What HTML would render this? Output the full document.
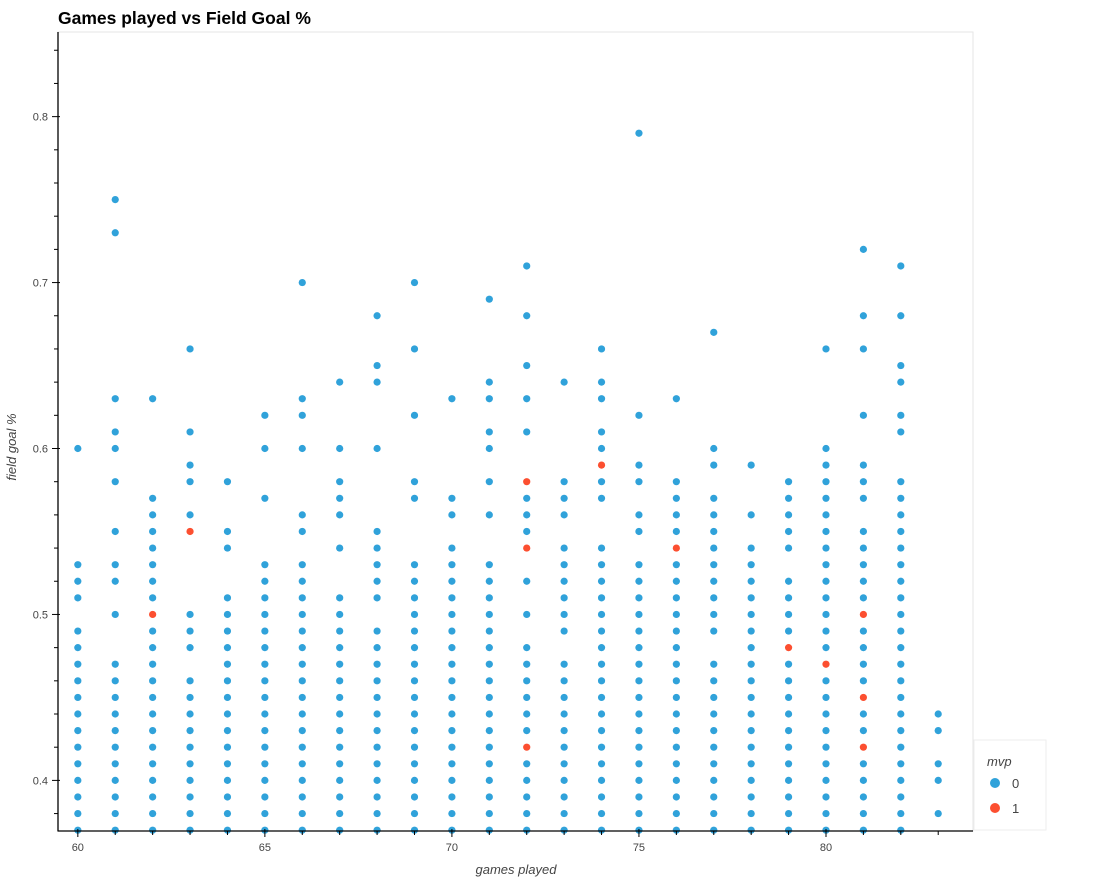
<!DOCTYPE html>
<html><head><meta charset="utf-8"><style>
body{margin:0;background:#fff;font-family:"Liberation Sans",sans-serif}
svg text{font-family:"Liberation Sans",sans-serif}
</style></head><body>
<svg id="chart" width="1100" height="880" xmlns="http://www.w3.org/2000/svg">
<rect x="0" y="0" width="1100" height="880" fill="#fff"/>
<rect x="58" y="32" width="915" height="799" fill="#fff" stroke="#e6e6e6"/>
<text x="58" y="24" font-size="17.5" font-weight="bold" fill="#000">Games played vs Field Goal %</text>
<text transform="translate(16,447) rotate(-90)" text-anchor="middle" font-size="13" font-style="italic" fill="#444">field goal %</text>
<text x="516" y="874" text-anchor="middle" font-size="13" font-style="italic" fill="#444">games played</text>
<g id="points"></g>
<g id="axes"></g>
<g>
<rect x="974" y="740" width="72" height="90" fill="#fff" stroke="#eee"/>
<text x="987" y="766" font-size="13" font-style="italic" fill="#444">mvp</text>
<circle cx="995" cy="783" r="5" fill="#30a2da"/>
<text x="1012" y="788" font-size="13" fill="#444">0</text>
<circle cx="995" cy="808" r="5" fill="#fc4f30"/>
<text x="1012" y="813" font-size="13" fill="#444">1</text>
</g>
</svg>
<script>
// field goal % in hundredths, per games-played value (mvp = 0)
const gamesPlayed = [60,61,62,63,64,65,66,67,68,69,70,71,72,73,74,75,76,77,78,79,80,81,82,83];
const fgNonMvp = [
[60,53,52,51,49,48,47,46,45,44,43,42,41,40,39,38,37],
[75,73,63,61,60,58,55,53,52,50,47,46,45,44,43,42,41,40,39,38,37],
[63,57,56,55,54,53,52,51,49,48,47,46,45,44,43,42,41,40,39,38,37],
[66,61,59,58,56,50,49,48,46,45,44,43,42,41,40,39,38,37],
[58,55,54,51,50,49,48,47,46,45,44,43,42,41,40,39,38,37],
[62,60,57,53,52,51,50,49,48,47,46,45,44,43,42,41,40,39,38,37],
[70,63,62,60,56,55,53,52,51,50,49,48,47,46,45,44,43,42,41,40,39,38,37],
[64,60,58,57,56,54,51,50,49,48,47,46,45,44,43,42,41,40,39,38,37],
[68,65,64,60,55,54,53,52,51,49,48,47,46,45,44,43,42,41,40,39,38,37],
[70,66,62,58,57,53,52,51,50,49,48,47,46,45,44,43,42,41,40,39,38,37],
[63,57,56,54,53,52,51,50,49,48,47,46,45,44,43,42,41,40,39,38,37],
[69,64,63,61,60,58,56,53,52,51,50,49,48,47,46,45,44,43,42,41,40,39,38,37],
[71,68,65,63,61,57,56,55,52,50,48,47,46,45,44,43,41,40,39,38,37],
[64,58,57,56,54,53,52,51,50,49,47,46,45,44,43,42,41,40,39,38,37],
[66,64,63,61,60,58,57,54,53,52,51,50,49,48,47,46,45,44,43,42,41,40,39,38,37],
[79,62,59,58,56,55,53,52,51,50,49,48,47,46,45,44,43,42,41,40,39,38,37],
[63,58,57,56,55,53,52,51,50,49,48,47,46,45,44,43,42,41,40,39,38,37],
[67,60,59,57,56,55,54,53,52,51,50,49,47,46,45,44,43,42,41,40,39,38,37],
[59,56,54,53,52,51,50,49,48,47,46,45,44,43,42,41,40,39,38,37],
[58,57,56,55,54,52,51,50,49,47,46,45,44,43,42,41,40,39,38,37],
[66,60,59,58,57,56,55,54,53,52,51,50,49,48,46,45,44,43,42,41,40,39,38,37],
[72,68,66,62,59,58,57,55,54,53,52,51,49,48,47,46,44,43,41,40,39,38,37],
[71,68,65,64,62,61,58,57,56,55,54,53,52,51,50,49,48,47,46,45,44,43,42,41,40,39,38,37],
[44,43,41,40,38]
];
// mvp = 1 points
const mvpGames = [62,63,72,72,72,74,76,79,80,81,81,81];
const mvpFg = [50,55,58,54,42,59,54,48,47,50,45,42];
const xTicks = [60,65,70,75,80];
const yTicks = [0.4,0.5,0.6,0.7,0.8];

const NS = 'http://www.w3.org/2000/svg';
const L=58,R=973,T=32,B=831;
const xMin=59.47, xMax=83.93, yMin=0.3695, yMax=0.851;
function xs(v){return L+(v-xMin)/(xMax-xMin)*(R-L);}
function ys(v){return B-(v-yMin)/(yMax-yMin)*(B-T);}
function mk(tag,attrs,parent){const e=document.createElementNS(NS,tag);for(const k in attrs)e.setAttribute(k,attrs[k]);parent.appendChild(e);return e;}

const pts=document.getElementById('points');
gamesPlayed.forEach((g,i)=>{
  fgNonMvp[i].forEach(f=>{
    const c=mk('circle',{cx:xs(g),cy:ys(f/100),r:3.6,fill:'#30a2da'},pts);
    
    
  });
});
mvpGames.forEach((g,i)=>{
  const c=mk('circle',{cx:xs(g),cy:ys(mvpFg[i]/100),r:3.6,fill:'#fc4f30'},pts);
  
  
});

const ax=document.getElementById('axes');
mk('line',{x1:L,y1:T,x2:L,y2:B+0.5,stroke:'#000','stroke-width':1.3},ax);
mk('line',{x1:L,y1:B,x2:R,y2:B,stroke:'#000','stroke-width':1.3},ax);
for(let v=60; v<=83; v++){
  const x=xs(v);
  const major=xTicks.indexOf(v)>=0;
  mk('line',{x1:x,y1:major?B-2:B,x2:x,y2:major?B+6:B+4,stroke:'#000','stroke-width':1},ax);
}
xTicks.forEach(v=>{
  const t=mk('text',{x:xs(v),y:B+20,'text-anchor':'middle','font-size':11,fill:'#444'},ax);
  t.textContent=v;
  
  
});
for(let k=38;k<=84;k+=2){
  const v=k/100, y=ys(v);
  const major=(k%10===0);
  mk('line',{x1:major?L-6:L-4,y1:y,x2:major?L+2:L,y2:y,stroke:'#000','stroke-width':1},ax);
}
yTicks.forEach(v=>{
  const t=mk('text',{x:L-10,y:ys(v)+4,'text-anchor':'end','font-size':11,fill:'#444'},ax);
  t.textContent=v.toFixed(1);
  
  
});
</script>
</body></html>
